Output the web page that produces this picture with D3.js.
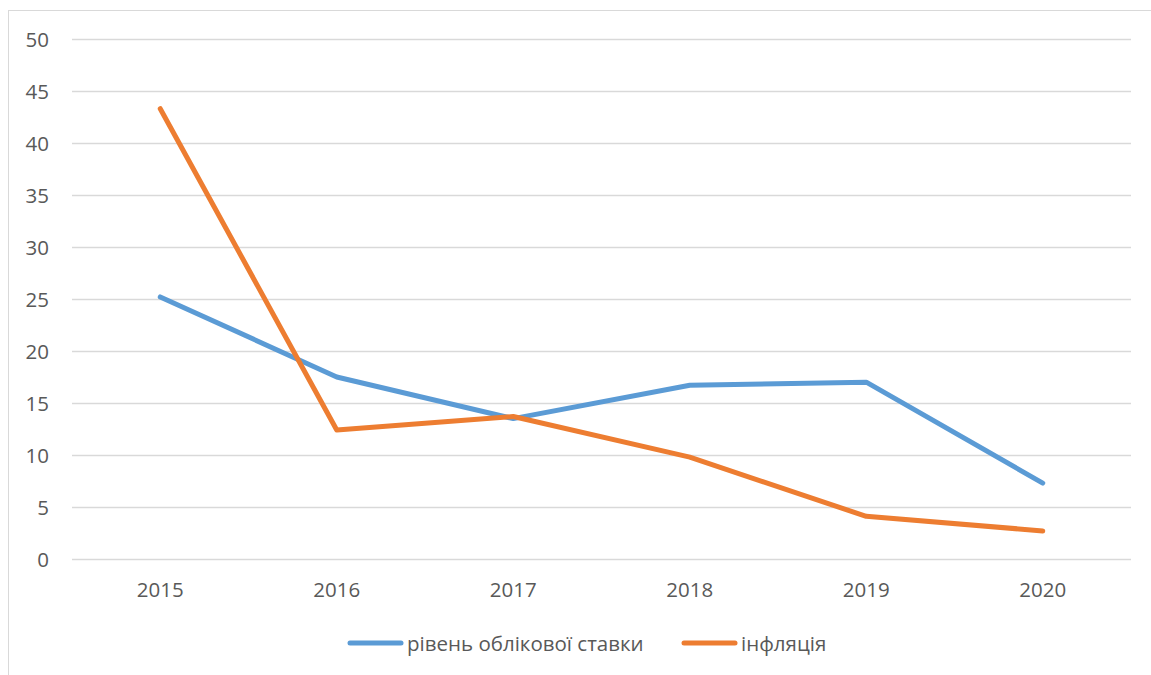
<!DOCTYPE html>
<html><head><meta charset="utf-8">
<script src="https://cdn.jsdelivr.net/npm/d3@7"></script>
<style>body{margin:0;background:#fff;} text{font-family:"Open Sans",sans-serif;fill:#595959;}</style>
</head><body>
<svg id="c" width="1151" height="675"></svg>
<script>
const categories = ["2015","2016","2017","2018","2019","2020"];
const rateValues = [25.2, 17.5, 13.5, 16.7, 17.0, 7.3];
const inflationValues = [43.3, 12.4, 13.7, 9.8, 4.1, 2.7];
const yTicks = [0,5,10,15,20,25,30,35,40,45,50];
const seriesNames = ["рівень облікової ставки","інфляція"];
const colors = ["#5B9BD5","#ED7D31"];

(function(){
const svg = d3.select("#c");
const fs = "20.5px";
svg.append("rect").attr("x",8.5).attr("y",10.5).attr("width",1160).attr("height",700)
  .attr("fill","#fff").attr("stroke","#d9d9d9").attr("stroke-width",1);

const pLeft=72, pRight=1131, pTop=39, pBottom=559;
const x = d3.scaleBand().domain(categories).range([pLeft,pRight]);
const y = d3.scaleLinear().domain([0,50]).range([pBottom,pTop]);

svg.append("g").selectAll("line").data(yTicks).join("line")
  .attr("x1",pLeft).attr("x2",pRight).attr("y1",d=>Math.round(y(d))+0.5).attr("y2",d=>Math.round(y(d))+0.5)
  .attr("stroke","#d9d9d9").attr("stroke-width",1.3);

const yAxis = d3.axisLeft(y).tickValues(yTicks).tickSize(0).tickPadding(0);
const ya = svg.append("g").attr("transform",`translate(49,0)`).call(yAxis);
ya.select(".domain").remove();
ya.selectAll("text").style("font-size",fs).style("font-family","'Open Sans',sans-serif").attr("fill","#595959").attr("dy","0.35em");

const xAxis = d3.axisBottom(x).tickSize(0).tickPadding(0);
const xa = svg.append("g").attr("transform",`translate(0,${pBottom+31})`).call(xAxis);
xa.select(".domain").remove();
xa.selectAll("text").style("font-size",fs).style("font-family","'Open Sans',sans-serif").attr("fill","#595959").attr("dy","0.35em");

const line = d3.line().x((d,i)=>x(categories[i])+x.bandwidth()/2).y(d=>y(d));
[rateValues, inflationValues].forEach((vals,i)=>{
  svg.append("path").datum(vals).attr("d",line).attr("fill","none")
    .attr("stroke",colors[i]).attr("stroke-width",5).attr("stroke-linecap","round").attr("stroke-linejoin","round");
});

const legendX = [348,682];
seriesNames.forEach((n,i)=>{
  const lx = legendX[i];
  svg.append("line").attr("x1",lx+2).attr("x2",lx+53).attr("y1",643).attr("y2",643)
    .attr("stroke",colors[i]).attr("stroke-width",5).attr("stroke-linecap","round");
  svg.append("text").attr("x",lx+59).attr("y",644).attr("dy","0.35em")
    .style("font-size",fs).text(n);
});
})();
</script>
</body></html>
